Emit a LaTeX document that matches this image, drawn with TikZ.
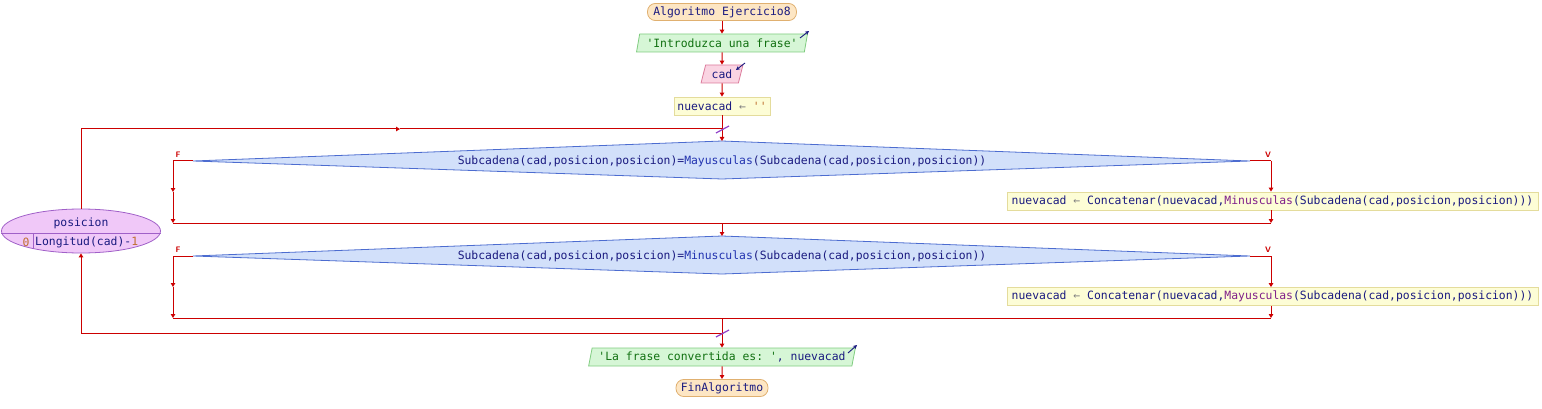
\documentclass[tikz,border=0pt]{standalone}
\usepackage{fontspec}
\setmonofont{DejaVu Sans Mono}
\usetikzlibrary{arrows.meta,shapes.geometric}
\definecolor{flowc}{HTML}{CC0000}
\definecolor{navy}{HTML}{1A1A80}
\definecolor{fnblue}{HTML}{2233B0}
\definecolor{fnpurp}{HTML}{80208A}
\definecolor{strg}{HTML}{107010}
\definecolor{numc}{HTML}{C07030}
\definecolor{termf}{HTML}{FDE6C4}
\definecolor{termb}{HTML}{E0B070}
\definecolor{outf}{HTML}{D6F6D6}
\definecolor{outb}{HTML}{80CC80}
\definecolor{inf}{HTML}{FAD4E2}
\definecolor{inb}{HTML}{DC7C9C}
\definecolor{asgf}{HTML}{FDFDD6}
\definecolor{asgb}{HTML}{E4DC9C}
\definecolor{decf}{HTML}{D2E0FA}
\definecolor{decb}{HTML}{4C6CD0}
\definecolor{loopf}{HTML}{F0C8F8}
\definecolor{loopb}{HTML}{A060C8}
\definecolor{slashc}{HTML}{9040C8}
\tikzset{
  every node/.style={font=\ttfamily\fontsize{11.4}{13}\selectfont},
  term/.style={draw=termb, fill=termf, rounded corners=8pt, minimum height=17pt, inner sep=3pt, text=navy, line width=0.8pt},
  iobox/.style={trapezium, trapezium left angle=72, trapezium right angle=108, trapezium stretches=true, minimum height=18pt, inner sep=0pt, line width=0.8pt},
  asg/.style={draw=asgb, fill=asgf, minimum height=18pt, inner sep=3pt, text=navy, line width=0.8pt},
  dectext/.style={inner sep=0pt, text=navy},
  decshape/.style={draw=decb, fill=decf, line width=0.8pt},
  lab/.style={text=flowc, font=\sffamily\bfseries\fontsize{8}{9}\selectfont, inner sep=0pt},
  line/.style={draw=flowc, line width=1pt},
  flow/.style={draw=flowc, line width=1pt, -{Triangle[length=4pt,width=4.5pt]}},
  ioarrow/.style={draw=navy, line width=0.9pt, -{Stealth[length=4pt,width=4pt]}},
  slash/.style={draw=slashc, line width=1.2pt},
}
\begin{document}
\begin{tikzpicture}[x=1pt,y=-1pt]
\useasboundingbox (0,0) rectangle (1542,409);

% top sequence
\node[term, minimum width=149pt] (start) at (722,12) {Algoritmo Ejercicio8};
\node[iobox, draw=outb, fill=outf, minimum width=171pt, text=strg] (o1) at (722,43) {'Introduzca una frase'};
\draw[ioarrow] (800,38) -- (809,31);
\node[iobox, draw=inb, fill=inf, minimum width=42pt, text=navy] (in1) at (722,74) {cad};
\draw[ioarrow] (745,63) -- (736,70);
\node[asg, minimum width=96pt] (a1) at (722,106) {nuevacad {\color{gray}←} {\color{numc}''}};

% loop node
\node[ellipse, draw=loopb, fill=loopf, minimum width=159pt, minimum height=44pt, inner sep=0pt, line width=0.8pt] (loop) at (81,231) {};
\draw[loopb, line width=0.8pt] (loop.west |- 0,233) -- (loop.east |- 0,233);
\draw[loopb, line width=0.8pt] (33,233) -- (33,249);
\node[inner sep=0pt, text=navy] (lvar) at (81,223) {posicion};
\node[inner sep=0pt, text=numc] (lini) at (26,242) {0};
\node[inner sep=0pt, text=navy, anchor=west] (lfin) at (35,242) {Longitud(cad)-{\color{numc}1}};

% decision 1
\coordinate (d1w) at (193,161);
\coordinate (d1n) at (722,141);
\coordinate (d1e) at (1250,161);
\coordinate (d1s) at (722,179);
\path[decshape] (d1w) -- (d1n) -- (d1e) -- (d1s) -- cycle;
\node[dectext] (d1) at (722,161) {Subcadena(cad,posicion,posicion)={\color{fnblue}Mayusculas}(Subcadena(cad,posicion,posicion))};
\node[lab] (f1) at (178,155) {F};
\node[lab] (v1) at (1268,155) {V};
\node[asg, minimum width=531pt] (b1) at (1272.5,201) {nuevacad {\color{gray}←} Concatenar(nuevacad,{\color{fnpurp}Minusculas}(Subcadena(cad,posicion,posicion)))};

% decision 2
\coordinate (d2w) at (193,256);
\coordinate (d2n) at (722,236);
\coordinate (d2e) at (1250,256);
\coordinate (d2s) at (722,274);
\path[decshape] (d2w) -- (d2n) -- (d2e) -- (d2s) -- cycle;
\node[dectext] (d2) at (722,256) {Subcadena(cad,posicion,posicion)={\color{fnblue}Minusculas}(Subcadena(cad,posicion,posicion))};
\node[lab] (f2) at (178,250) {F};
\node[lab] (v2) at (1268,250) {V};
\node[asg, minimum width=531pt] (b2) at (1272.5,296.5) {nuevacad {\color{gray}←} Concatenar(nuevacad,{\color{fnpurp}Mayusculas}(Subcadena(cad,posicion,posicion)))};

% bottom sequence
\node[iobox, draw=outb, fill=outf, minimum width=267pt, text=strg] (o2) at (722,357) {'La frase convertida es: '{\color{navy}, nuevacad}};
\draw[ioarrow] (848,353) -- (857,345);
\node[term, minimum width=92pt] (end) at (722,388) {FinAlgoritmo};

% connectors top
\draw[flow] (start) -- (o1);
\draw[flow] (o1) -- (in1);
\draw[flow] (in1) -- (a1);
\draw[flow] (a1) -- (d1n);

% loop entry
\coordinate (lt) at (81,129);
\coordinate (lm) at (400,129);
\coordinate (lj) at (722,129);
\draw[flow] (loop.north) -- (lt) -- (lm);
\draw[line] (lm) -- (lj);
\draw[slash] (716,133) -- (729,126);

% decision 1 branches
\coordinate (f1a) at (173,161);
\coordinate (f1m) at (173,192);
\coordinate (f1b) at (173,223);
\coordinate (v1a) at (1271,161);
\coordinate (v1b) at (1271,223);
\coordinate (m1) at (722,223);
\draw[line] (d1w) -- (f1a);
\draw[flow] (f1a) -- (f1m);
\draw[flow] (f1m) -- (f1b);
\draw[line] (d1e) -- (v1a);
\draw[flow] (v1a) -- (v1a |- b1.north);
\draw[flow] (v1a |- b1.south) -- (v1b);
\draw[line] (f1b) -- (v1b);
\draw[flow] (m1) -- (d2n);

% decision 2 branches
\coordinate (f2a) at (173,256);
\coordinate (f2m) at (173,287);
\coordinate (f2b) at (173,318);
\coordinate (v2a) at (1271,256);
\coordinate (v2b) at (1271,318);
\coordinate (m2) at (722,318);
\draw[line] (d2w) -- (f2a);
\draw[flow] (f2a) -- (f2m);
\draw[flow] (f2m) -- (f2b);
\draw[line] (d2e) -- (v2a);
\draw[flow] (v2a) -- (v2a |- b2.north);
\draw[flow] (v2a |- b2.south) -- (v2b);
\draw[line] (f2b) -- (v2b);

% loop exit
\coordinate (lb) at (722,333);
\coordinate (lb2) at (81,333);
\draw[flow] (m2) -- (o2);
\draw[flow] (lb) -- (lb2) -- (loop.south);
\draw[slash] (716,337) -- (729,330);
\draw[flow] (o2) -- (end);
\end{tikzpicture}
\end{document}
